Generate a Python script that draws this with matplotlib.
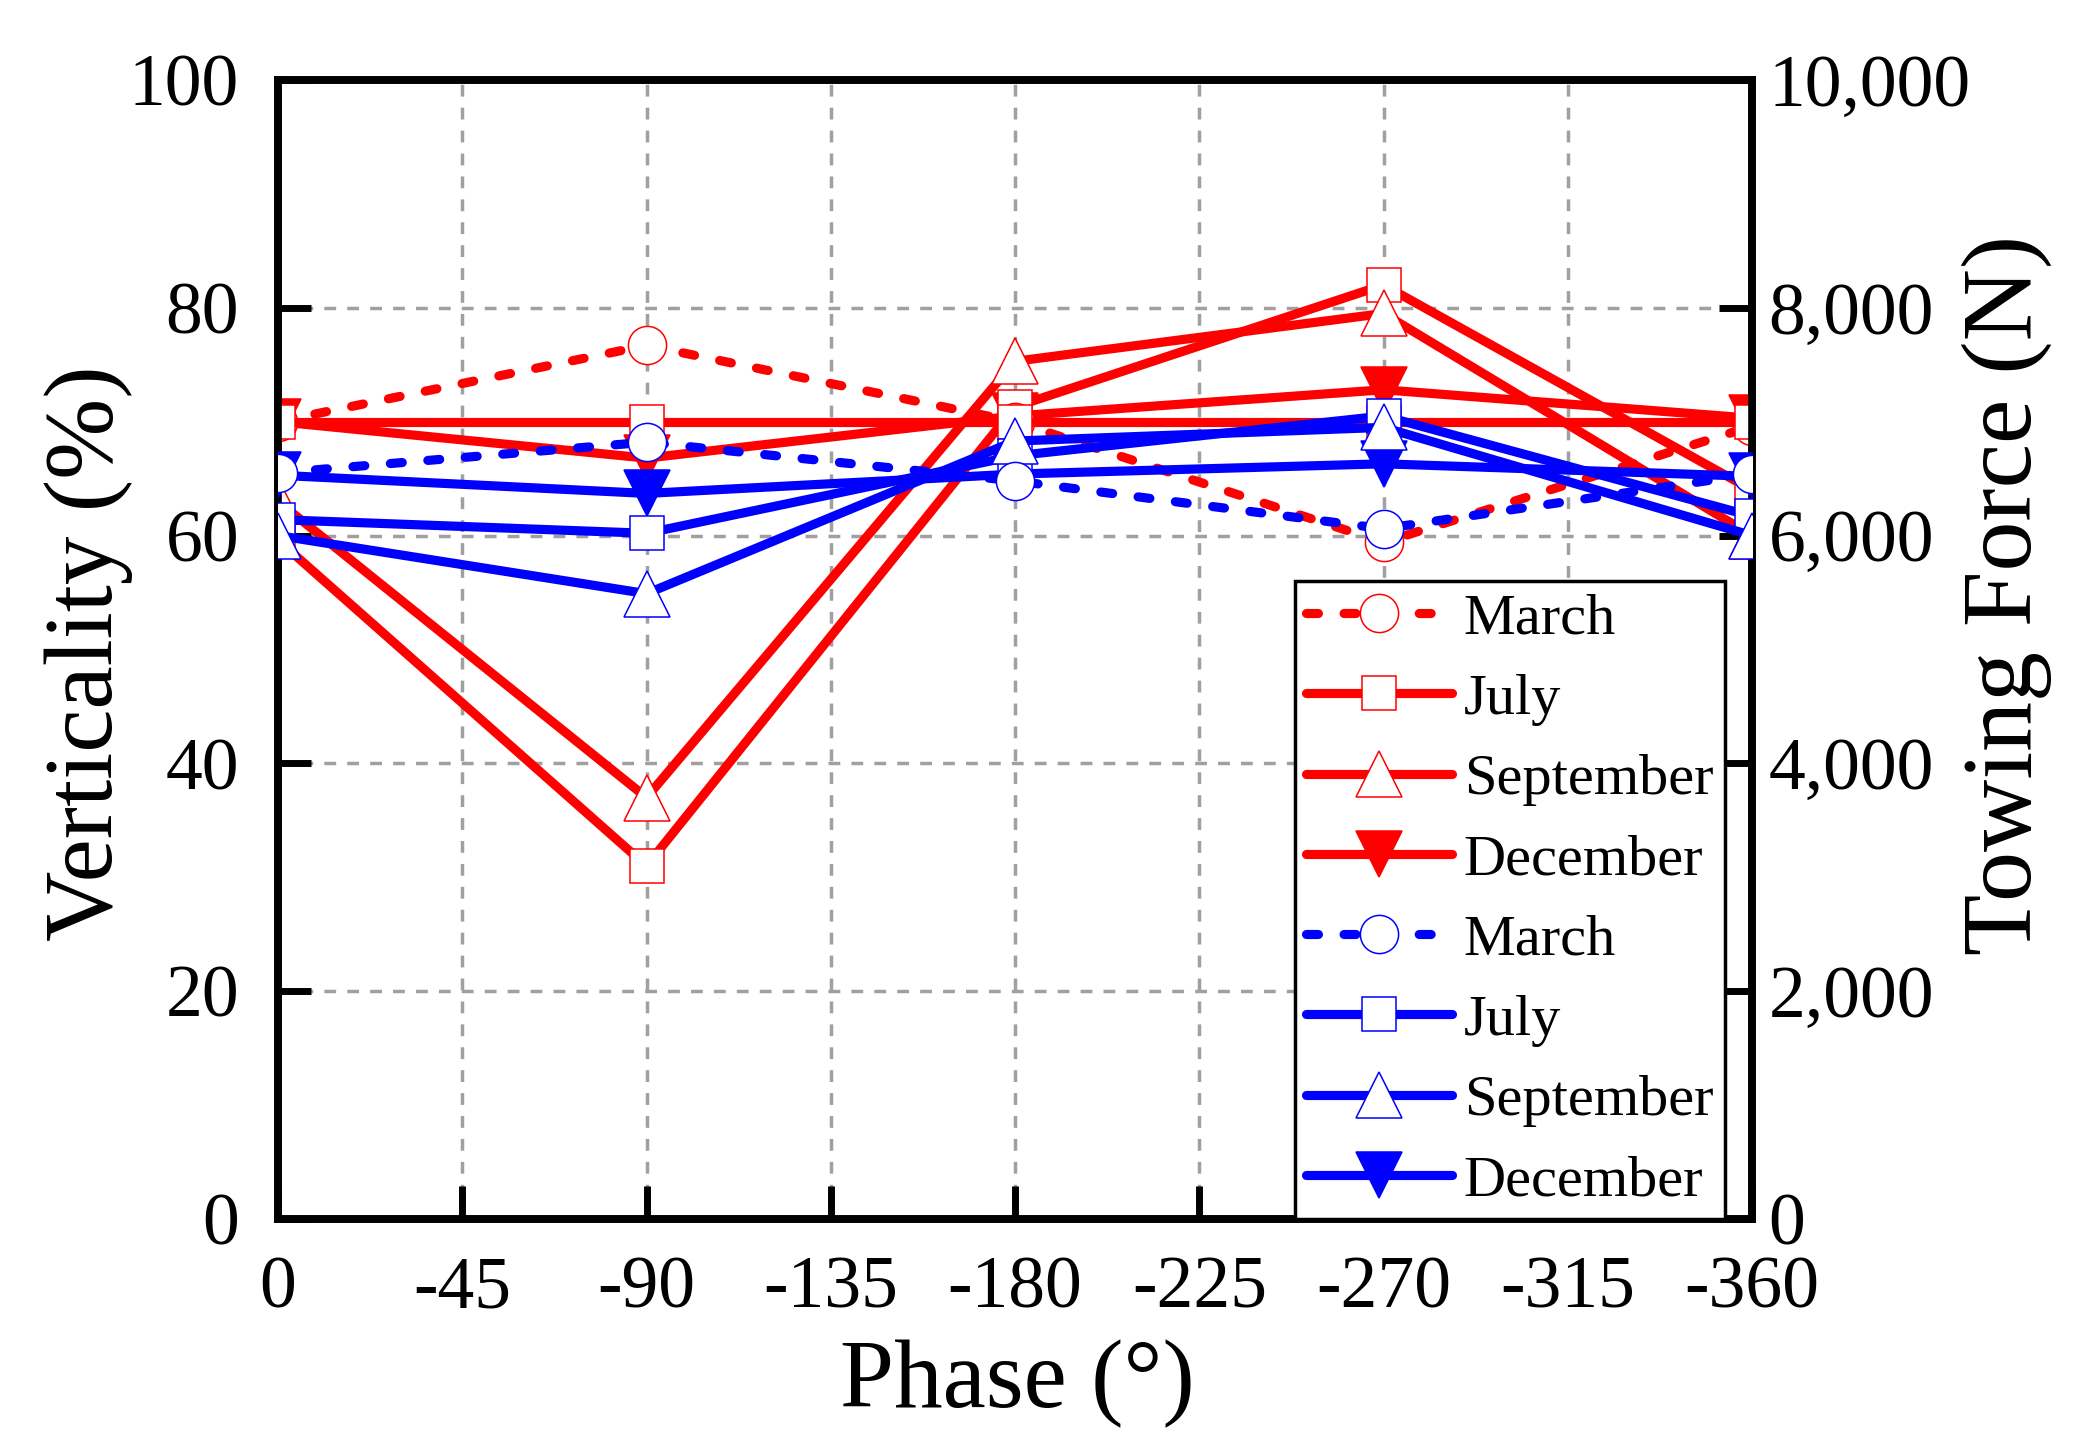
import matplotlib
matplotlib.use("Agg")
import matplotlib.pyplot as plt
from matplotlib.ticker import FuncFormatter

plt.rcParams['font.family'] = ['Liberation Serif', 'DejaVu Serif']
plt.rcParams['axes.unicode_minus'] = False

# ---- data ----
phase = [0, -90, -180, -270, -360]
months = ["March", "July", "September", "December"]

# Verticality (%) - red, left axis
vert_march = [70.0, 76.7, 70.0, 59.4, 69.6]
vert_july = [59.6, 31.0, 71.3, 82.0, 64.0]
vert_september = [63.0, 37.0, 75.3, 79.5, 60.0]
vert_december = [70.0, 66.8, 70.5, 72.8, 70.3]
vert_flat = [70.0, 70.0, 70.0, 70.0, 70.0]

# Towing force (N) - blue, right axis
force_march = [6550, 6820, 6480, 6060, 6540]
force_july = [6140, 6020, 6700, 7050, 6170]
force_september = [6000, 5490, 6830, 6950, 6000]
force_december = [6530, 6370, 6540, 6630, 6520]

x_ticks = [0, -45, -90, -135, -180, -225, -270, -315, -360]
left_ticks = [0, 20, 40, 60, 80, 100]
right_ticks = [0, 2000, 4000, 6000, 8000, 10000]

# ---- figure ----
fig = plt.figure(figsize=(20.81, 14.41), dpi=100)
ax = fig.add_axes([0.1336, 0.1541, 0.8419 - 0.1336, 0.9445 - 0.1541])
ax2 = ax.twinx()

LW = 6.6
MEW = 1.1
dash = (0, (1.3, 2.8))
styles = {
    "March": dict(marker='o', ms=27.5, ls=dash),
    "July": dict(marker='s', ms=24.5, ls='-'),
    "September": dict(marker='^', ms=33, ls='-'),
    "December": dict(marker='v', ms=33, ls='-'),
}

def draw(axis, y, color, name, label=None, filled=False):
    st = styles[name]
    line, = axis.plot(phase, y, color=color, lw=LW, linestyle=st["ls"],
                      marker=st["marker"], ms=st["ms"], mew=MEW, mec=color,
                      mfc=color if filled else 'white',
                      dash_capstyle='round', solid_capstyle='round',
                      label=label, zorder=3)
    return line

red = '#FF0000'
blue = '#0000FF'

r_dec = draw(ax, vert_december, red, "December", "December", filled=True)
r_jul = draw(ax, vert_july, red, "July", "July")
r_sep = draw(ax, vert_september, red, "September", "September")
r_mar = draw(ax, vert_march, red, "March", "March")
draw(ax, vert_flat, red, "July")

b_dec = draw(ax2, force_december, blue, "December", "December", filled=True)
b_jul = draw(ax2, force_july, blue, "July", "July")
b_sep = draw(ax2, force_september, blue, "September", "September")
b_mar = draw(ax2, force_march, blue, "March", "March")

h = [r_mar, r_jul, r_sep, r_dec, b_mar, b_jul, b_sep, b_dec]

ax.set_xlim(0, -360)
ax.set_ylim(0, 100)
ax2.set_ylim(0, 10000)
ax.set_xticks(x_ticks)
ax.set_xticklabels([str(v) for v in x_ticks])
ax.set_yticks(left_ticks)
ax2.set_yticks(right_ticks)
ax2.yaxis.set_major_formatter(FuncFormatter(lambda v, p: f"{v:,.0f}"))

ax.grid(True, color='#A0A0A0', lw=2.5, linestyle=(0, (3.4, 3.2)), zorder=0)
ax.set_axisbelow(True)

for a in (ax, ax2):
    for s in a.spines.values():
        s.set_linewidth(5.5)
        s.set_color('black')

ax.tick_params(axis='both', direction='in', length=24, width=5, labelsize=53,
               top=False, right=False)
ax.tick_params(axis='y', pad=28)
ax.tick_params(axis='x', pad=27)
ax2.tick_params(axis='y', direction='in', length=24, width=5, labelsize=53, pad=12)

ax.set_xlabel("Phase (°)", fontsize=70)
ax.set_ylabel("Verticality (%)", fontsize=70)
ax2.set_ylabel("Towing Force (N)", fontsize=72)
ax.xaxis.set_label_coords(0.5013, -0.1062)
ax.yaxis.set_label_coords(-0.0984, 0.497)
ax2.yaxis.set_label_coords(1.1425, 0.548)

leg = ax2.legend(handles=h, loc='lower right', bbox_to_anchor=(0.9817, 0.0),
                 borderaxespad=0, fontsize=42, frameon=True, fancybox=False,
                 framealpha=1, edgecolor='black', handlelength=2.5,
                 handletextpad=0.2, labelspacing=0.47, borderpad=0.2)
leg.get_frame().set_linewidth(2.5)
leg.set_zorder(10)

fig.savefig("out.png", dpi=100)
